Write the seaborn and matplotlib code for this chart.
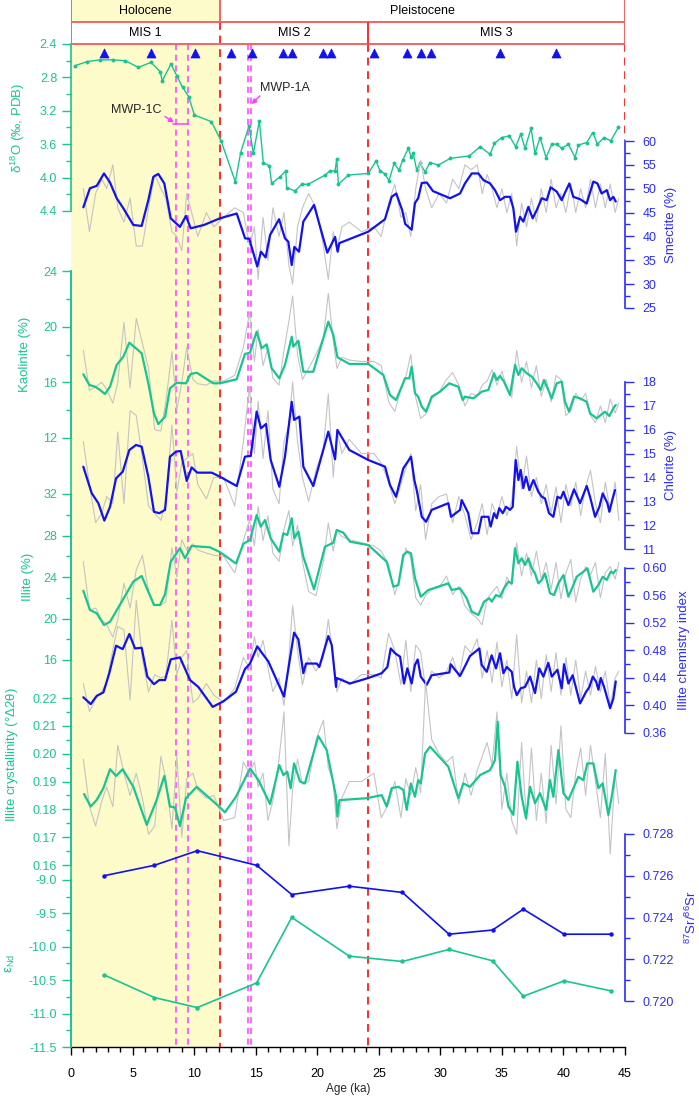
import matplotlib
matplotlib.use("Agg")
import matplotlib.pyplot as plt
from matplotlib.ticker import MultipleLocator, FormatStrFormatter
import seaborn as sns

# ---- data (ages in ka) ----
d18o_age = [0.33, 1.33, 2.36, 3.39, 4.41, 5.47, 6.50, 7.23, 7.42, 8.12, 8.59, 9.07, 9.56, 10.02, 11.4, 12.19, 13.35, 13.78, 14.46, 14.81,
            15.3, 15.62, 16.11, 16.3, 16.98, 17.44, 17.52, 18.2, 18.74, 19.28, 20.63, 21.04, 21.45, 21.58, 21.72, 22.53, 24.15, 24.78, 25.1, 25.53,
            25.83, 26.24, 26.65, 26.94, 27.4, 27.62, 27.8, 28.08, 28.35, 28.76, 29.16, 29.84, 30.8, 32.36, 33.23, 34.04, 34.39, 34.99, 35.6, 36.12,
            36.53, 36.88, 37.37, 37.69, 38.1, 38.59, 39.05, 39.45, 39.86, 40.4, 40.94, 41.21, 41.89, 42.38, 42.76, 43.3, 43.84, 44.46]
d18o = [2.66, 2.61, 2.59, 2.59, 2.60, 2.68, 2.62, 2.73, 2.84, 2.64, 2.78, 2.92, 3.03, 3.25, 3.33, 3.56, 4.05, 3.70, 3.38, 3.71,
        3.32, 3.82, 3.86, 4.07, 3.99, 3.92, 4.12, 4.16, 4.08, 4.08, 3.97, 3.92, 3.92, 3.78, 4.08, 3.97, 3.95, 3.80, 3.92, 3.96,
        4.04, 3.83, 3.91, 3.79, 3.65, 3.75, 3.71, 3.91, 3.83, 3.93, 3.82, 3.85, 3.77, 3.74, 3.63, 3.72, 3.59, 3.52, 3.50, 3.63,
        3.48, 3.65, 3.41, 3.71, 3.52, 3.76, 3.60, 3.60, 3.65, 3.60, 3.76, 3.61, 3.58, 3.46, 3.60, 3.52, 3.56, 3.40]

# AMS 14C dates
dates = [2.68, 6.5, 10.07, 13.0, 14.7, 17.2, 17.95, 20.47, 21.1, 24.6, 27.3, 28.4, 29.24, 34.85, 39.4]

# raw clay samples share one age list
raw_age = ([1.0, 1.5, 2.0, 2.5, 2.9, 3.4, 3.8, 4.3, 4.8, 5.3, 5.8, 6.3, 6.8, 7.3, 7.7, 8.2, 8.6, 9.0, 9.4, 9.9, 10.3, 11.0, 11.6]
           + [12.4, 13.3, 14.0, 14.5, 14.9, 15.2, 15.6, 16.0, 16.4, 16.9, 17.3, 17.7, 18.0, 18.4, 18.8, 19.3, 19.9, 20.5, 20.9, 21.3, 21.6, 22.0, 22.6, 23.6]
           + [24.6, 25.2, 25.8, 26.3, 26.8, 27.2, 27.6, 28.0, 28.4, 28.8, 29.3, 29.9, 30.5, 31.0, 31.5, 32.0, 32.5, 33.0, 33.4, 33.8, 34.2, 34.6, 35.0, 35.4]
           + [35.8, 36.2, 36.6, 37.0, 37.4, 37.8, 38.2, 38.6, 39.0, 39.4, 39.8, 40.2, 40.6, 41.0, 41.4, 41.8, 42.2, 42.6, 43.0, 43.4, 43.8, 44.2, 44.5])

smec_raw = ([50, 41, 49, 52, 50, 55, 46, 43, 48, 38, 38, 46, 53, 50, 48, 41, 40, 37, 49, 44, 40, 45, 42]
            + [44, 46, 45, 38, 42, 31, 44, 35, 46, 40, 45, 34, 30, 42, 46, 49, 46, 38, 31, 41, 37, 42, 43, 41]
            + [42, 40, 47, 51, 44, 45, 40, 50, 56, 50, 46, 49, 47, 52, 50, 55, 54, 55, 49, 53, 50, 46, 50, 45]
            + [49, 38, 47, 42, 48, 43, 50, 45, 52, 46, 49, 45, 51, 45, 50, 46, 52, 46, 51, 46, 51, 45, 48])
kaol_raw = ([18.3, 15.4, 15.7, 16.0, 15.5, 14.5, 16.0, 20.3, 15.6, 20.6, 18.8, 17.0, 12.6, 12.5, 14.6, 18.2, 14.0, 16.0, 18.5, 16.2, 15.9, 15.8, 16.1]
            + [16.1, 16.5, 18.5, 21.0, 17.5, 19.8, 17.2, 18.5, 16.3, 15.8, 18.3, 20.4, 22.2, 18.0, 16.2, 17.0, 18.0, 19.2, 22.4, 19.0, 17.0, 17.8, 17.6, 17.5]
            + [17.5, 17.2, 14.6, 13.9, 15.5, 16.4, 18.0, 14.9, 13.4, 13.7, 14.8, 15.3, 16.2, 16.7, 15.8, 14.3, 15.2, 15.0, 15.8, 16.1, 16.9, 15.8, 16.8, 15.6]
            + [14.9, 18.3, 16.0, 17.5, 15.6, 17.2, 15.0, 16.2, 14.6, 16.5, 16.2, 13.6, 14.0, 15.2, 14.7, 15.2, 13.6, 13.1, 14.3, 13.1, 14.8, 13.8, 14.5])
chlo_raw = ([15.5, 13.7, 12.1, 12.5, 13.2, 12.9, 15.9, 12.9, 16.8, 16.6, 14.8, 12.8, 12.5, 12.2, 13.0, 16.2, 13.4, 14.6, 14.8, 15.0, 13.7, 13.1, 14.0]
            + [14.0, 12.8, 15.5, 17.8, 15.0, 17.2, 14.8, 16.8, 13.5, 12.9, 15.5, 16.2, 18.0, 15.5, 14.0, 13.0, 14.3, 15.2, 17.5, 14.0, 16.0, 15.0, 15.6, 15.0]
            + [15.0, 14.6, 13.8, 12.9, 13.7, 14.4, 15.0, 12.6, 13.7, 11.4, 12.9, 13.2, 13.3, 12.1, 13.2, 12.4, 11.4, 12.1, 12.9, 11.6, 12.9, 12.4, 13.2, 12.4]
            + [13.0, 15.3, 13.5, 14.9, 13.2, 14.0, 12.9, 13.7, 12.5, 13.6, 12.1, 13.7, 12.8, 13.8, 12.4, 13.6, 14.3, 12.9, 12.1, 13.8, 12.6, 13.8, 12.2])
illi_raw = ([25.5, 20.8, 21.0, 19.9, 19.4, 18.2, 19.9, 23.4, 21.0, 24.7, 26.1, 22.6, 21.3, 21.3, 21.6, 26.8, 24.0, 27.6, 26.6, 27.2, 26.6, 26.3, 26.1]
            + [26.0, 24.4, 27.5, 29.5, 27.0, 30.8, 27.5, 29.9, 26.3, 25.5, 28.6, 30.4, 27.0, 29.0, 25.5, 22.6, 22.2, 25.5, 29.2, 26.5, 28.5, 27.9, 27.6, 27.3]
            + [27.0, 26.5, 25.2, 22.3, 24.4, 26.8, 25.8, 22.0, 21.3, 22.2, 22.8, 23.0, 24.1, 22.3, 23.1, 21.2, 20.5, 20.0, 19.4, 21.9, 22.5, 23.1, 21.9, 24.0]
            + [23.2, 27.3, 24.1, 26.3, 24.1, 26.5, 23.8, 25.4, 22.8, 25.4, 21.9, 24.4, 25.7, 21.6, 23.8, 25.0, 24.2, 25.4, 22.0, 24.4, 25.0, 23.8, 25.4])
ici_raw = ([0.432, 0.391, 0.410, 0.420, 0.434, 0.481, 0.515, 0.510, 0.408, 0.553, 0.468, 0.420, 0.445, 0.440, 0.443, 0.524, 0.445, 0.470, 0.480, 0.404, 0.410, 0.432, 0.415]
           + [0.405, 0.425, 0.470, 0.455, 0.500, 0.470, 0.495, 0.455, 0.420, 0.440, 0.400, 0.470, 0.545, 0.480, 0.430, 0.470, 0.450, 0.470, 0.525, 0.470, 0.420, 0.440, 0.430, 0.445]
           + [0.445, 0.440, 0.505, 0.480, 0.430, 0.495, 0.420, 0.488, 0.478, 0.425, 0.450, 0.440, 0.450, 0.470, 0.440, 0.487, 0.476, 0.497, 0.440, 0.480, 0.433, 0.492, 0.427, 0.466]
           + [0.410, 0.503, 0.404, 0.450, 0.404, 0.466, 0.410, 0.474, 0.420, 0.477, 0.415, 0.470, 0.415, 0.466, 0.410, 0.450, 0.415, 0.457, 0.420, 0.450, 0.400, 0.440, 0.450])
cryst_raw = ([0.198, 0.181, 0.174, 0.183, 0.188, 0.181, 0.203, 0.193, 0.185, 0.193, 0.184, 0.171, 0.174, 0.199, 0.191, 0.173, 0.199, 0.170, 0.191, 0.193, 0.187, 0.184, 0.185]
             + [0.176, 0.177, 0.197, 0.193, 0.197, 0.188, 0.193, 0.176, 0.183, 0.198, 0.215, 0.167, 0.187, 0.198, 0.189, 0.190, 0.205, 0.212, 0.195, 0.190, 0.173, 0.184, 0.190, 0.190]
             + [0.193, 0.177, 0.182, 0.190, 0.177, 0.191, 0.185, 0.195, 0.186, 0.226, 0.205, 0.200, 0.197, 0.199, 0.182, 0.193, 0.185, 0.194, 0.199, 0.204, 0.196, 0.215, 0.180, 0.193]
             + [0.176, 0.171, 0.204, 0.176, 0.202, 0.176, 0.193, 0.175, 0.203, 0.182, 0.210, 0.180, 0.177, 0.193, 0.202, 0.185, 0.203, 0.190, 0.177, 0.200, 0.164, 0.193, 0.182])

# smoothed curves
smec_age = [1.0, 1.54, 2.09, 2.68, 3.17, 3.71, 4.25, 5.06, 5.74, 6.28, 6.69, 7.09, 7.58, 8.1, 8.85, 9.34, 9.72, 10.8, 12.1, 13.46,
            14.14, 14.48, 15.13, 15.43, 15.81, 16.17, 16.9, 17.38, 17.65, 17.93, 18.14, 18.52, 18.87, 19.74, 20.82, 21.45, 21.66, 21.8,
            24.15, 25.5, 26.05, 26.42, 26.9, 27.15, 27.67, 27.94, 28.2, 28.49, 28.9, 29.4, 30.79, 31.6, 32.0, 32.55, 33.09, 33.5, 34.04, 34.44,
            34.85, 35.26, 35.66, 35.93, 36.15, 36.48, 36.74, 37.15, 37.5, 37.83, 38.24, 38.64, 38.96, 39.45, 39.86, 40.13, 40.48, 40.8, 41.35, 41.89,
            42.43, 42.76, 43.1, 43.52, 43.79, 44.05, 44.25]
smec = [46.1, 50.1, 50.6, 53.2, 51.3, 48.0, 45.9, 42.4, 42.2, 47.6, 52.5, 53.1, 51.1, 43.8, 42.0, 44.3, 41.7, 42.4, 43.8, 44.8,
        39.6, 39.5, 33.7, 36.8, 35.6, 40.3, 43.6, 39.6, 38.9, 34.0, 37.8, 36.8, 43.1, 46.6, 36.6, 39.9, 36.8, 38.6,
        41.0, 43.6, 48.3, 49.0, 45.5, 42.6, 41.4, 47.0, 48.0, 51.2, 51.3, 49.5, 48.0, 49.0, 51.1, 53.2, 53.2, 51.8, 51.1, 49.7,
        47.6, 48.3, 48.3, 45.9, 41.0, 44.1, 43.1, 46.2, 43.8, 45.5, 48.0, 47.6, 50.3, 49.4, 47.6, 49.2, 51.1, 48.3, 47.8, 46.9,
        51.5, 51.1, 49.0, 49.7, 47.6, 48.3, 47.3]

kaol_age = [1.0, 1.49, 1.95, 2.36, 2.76, 3.17, 3.71, 4.25, 4.74, 5.74, 6.28, 6.74, 7.09, 7.64, 8.04, 8.59, 9.34, 9.72, 10.21, 11.56,
            12.1, 13.46, 14.13, 14.54, 15.08, 15.49, 15.89, 16.3, 16.92, 17.38, 17.93, 18.06, 18.47, 18.87, 19.68, 20.9, 21.31, 21.64, 22.61,
            24.15, 25.37, 25.91, 26.4, 26.86, 27.13, 27.48, 27.67, 27.94, 28.2, 28.49, 28.84, 29.3, 29.98, 30.73, 31.06, 31.46, 31.82, 32.0, 32.7,
            33.36, 33.9, 34.36, 34.58, 34.85, 35.17, 35.66, 36.07, 36.34, 36.61, 37.02, 37.43, 37.83, 38.15, 38.42, 38.77, 39.05, 39.45, 39.86, 40.13,
            40.46, 40.86, 41.35, 41.89, 42.16, 42.7, 43.03, 43.38, 43.73, 44.05, 44.25]
kaol = [16.58, 15.81, 15.69, 15.45, 15.16, 15.69, 17.25, 17.84, 18.85, 18.09, 15.93, 13.77, 13.0, 13.53, 15.57, 15.97, 15.93, 16.6, 16.69, 15.93,
        15.93, 16.22, 18.04, 18.13, 19.64, 18.45, 18.73, 17.01, 16.29, 17.25, 19.28, 18.56, 18.99, 16.76, 16.76, 20.36, 19.4, 17.8, 17.32,
        17.32, 16.53, 15.09, 14.73, 15.69, 16.29, 16.29, 17.12, 15.21, 14.97, 14.25, 13.89, 14.97, 15.33, 15.93, 15.81, 15.69, 14.73, 14.97, 14.85,
        15.33, 15.45, 16.65, 16.17, 16.46, 16.05, 15.09, 17.25, 16.53, 17.01, 16.65, 16.41, 15.93, 15.45, 16.17, 15.45, 14.85, 15.93, 16.05, 14.6,
        13.89, 14.97, 14.85, 14.6, 13.77, 13.41, 13.65, 13.89, 13.58, 14.13, 14.37]

chlo_age = [1.0, 1.68, 2.22, 2.71, 3.17, 3.66, 4.2, 4.74, 5.28, 5.74, 6.28, 6.74, 7.17, 7.64, 8.04, 8.53, 8.91, 9.4, 9.8, 10.26,
            11.43, 12.1, 13.46, 14.13, 14.6, 15.08, 15.43, 15.84, 16.22, 16.92, 17.38, 17.93, 18.12, 18.55, 18.87, 19.68, 20.9, 21.45, 21.64, 22.61,
            24.15, 25.51, 25.91, 26.4, 26.99, 27.62, 27.89, 28.08, 28.49, 28.84, 29.3, 30.65, 30.87, 31.6, 31.74, 32.27, 32.55, 33.09, 33.36, 33.9,
            34.09, 34.36, 34.58, 34.79, 35.07, 35.34, 35.66, 35.88, 36.12, 36.34, 36.53, 36.74, 36.96, 37.23, 37.56, 37.96, 38.24, 38.5, 38.83, 39.18,
            39.51, 39.78, 40.0, 40.4, 40.86, 41.35, 41.89, 42.16, 42.57, 42.92, 43.19, 43.57, 43.73, 44.0, 44.19]
chlo = [14.45, 13.34, 12.92, 12.19, 12.77, 13.96, 14.24, 15.15, 15.36, 15.29, 14.03, 12.56, 12.5, 12.64, 14.87, 15.08, 15.11, 13.85, 14.42, 14.2,
        14.2, 14.03, 13.64, 14.87, 14.9, 16.76, 16.06, 16.24, 14.73, 13.61, 14.87, 17.17, 16.41, 16.55, 14.45, 13.64, 15.92, 14.76, 15.99, 15.15,
        14.73, 14.45, 13.68, 13.19, 14.38, 14.87, 13.89, 13.47, 12.35, 12.14, 12.64, 12.92, 12.35, 12.64, 13.05, 12.5, 11.66, 11.66, 12.35, 12.35,
        11.94, 12.5, 12.29, 12.71, 12.5, 12.77, 12.64, 12.77, 14.73, 13.89, 14.31, 13.55, 14.03, 13.47, 13.89, 13.4, 13.19, 13.12, 12.5, 12.35,
        13.19, 13.12, 13.4, 12.84, 13.5, 12.92, 13.64, 13.19, 12.35, 12.77, 13.33, 12.92, 12.56, 13.12, 13.47]

illi_age = [1.0, 1.54, 2.09, 2.68, 3.17, 4.12, 5.06, 5.74, 6.74, 7.23, 7.64, 8.1, 8.85, 9.26, 9.8, 11.29, 12.1, 13.4, 14.0, 14.54,
            15.08, 15.41, 15.76, 16.22, 16.92, 17.25, 17.57, 17.93, 18.14, 18.47, 18.87, 19.74, 20.63, 21.31, 21.58, 22.12, 22.66, 24.15, 25.64, 26.19,
            26.59, 26.99, 27.32, 27.62, 27.94, 28.41, 29.03, 30.65, 30.92, 31.6, 32.14, 32.55, 33.09, 33.55, 33.98, 34.17, 34.52, 34.85, 35.17, 35.53,
            35.8, 36.07, 36.34, 36.61, 36.88, 37.15, 37.43, 37.69, 37.96, 38.24, 38.5, 38.91, 39.24, 39.59, 40.0, 40.4, 40.75, 41.08, 41.62, 41.94,
            42.43, 42.84, 43.19, 43.52, 43.84, 44.05, 44.25]
illi = [22.68, 20.82, 20.5, 19.37, 19.69, 21.62, 23.55, 24.1, 21.3, 21.3, 22.36, 25.47, 26.77, 25.8, 26.99, 26.86, 26.4, 25.3, 27.2, 27.57,
        29.98, 28.85, 29.49, 27.73, 26.44, 28.21, 28.05, 29.66, 27.73, 28.37, 25.96, 22.81, 26.92, 27.31, 28.53, 28.27, 27.4, 27.08, 25.47, 23.06,
        23.23, 26.12, 26.44, 26.28, 23.87, 22.1, 22.75, 23.39, 22.75, 22.91, 21.95, 20.66, 20.34, 21.62, 21.95, 21.62, 22.26, 22.1, 22.91, 23.55,
        23.39, 26.77, 25.32, 25.8, 25.16, 25.8, 24.84, 24.35, 23.39, 23.71, 24.35, 22.43, 22.26, 23.39, 24.19, 22.1, 23.06, 24.03, 24.51, 24.84,
        22.58, 23.23, 24.03, 23.71, 24.51, 24.35, 24.67]

ici_age = [1.0, 1.6, 2.09, 2.63, 3.11, 3.66, 4.2, 4.74, 5.2, 5.74, 6.2, 6.74, 7.17, 7.64, 8.1, 8.85, 9.67, 10.34, 11.51, 12.37,
           13.4, 14.13, 14.54, 15.13, 15.57, 16.03, 17.3, 18.12, 18.47, 18.87, 19.09, 19.96, 20.17, 20.9, 21.18, 21.53, 21.58, 22.66, 24.15, 25.24,
           25.7, 25.97, 26.32, 26.73, 27.05, 27.32, 27.67, 27.94, 28.16, 28.41, 28.89, 29.3, 30.73, 30.84, 31.19, 31.6, 32.0, 32.41, 33.17, 33.36,
           33.77, 34.17, 34.52, 34.85, 35.12, 35.4, 35.8, 35.99, 36.21, 36.53, 36.88, 37.29, 37.69, 38.04, 38.37, 38.77, 39.05, 39.51, 39.86, 40.05,
           40.4, 40.75, 41.35, 41.84, 42.11, 42.38, 42.65, 42.84, 43.03, 43.3, 43.79, 44.05, 44.25]
ici = [0.412, 0.402, 0.414, 0.419, 0.447, 0.487, 0.482, 0.504, 0.483, 0.484, 0.442, 0.431, 0.437, 0.437, 0.467, 0.470, 0.437, 0.427, 0.398, 0.406,
       0.420, 0.453, 0.461, 0.486, 0.475, 0.464, 0.413, 0.506, 0.496, 0.447, 0.461, 0.461, 0.456, 0.501, 0.488, 0.427, 0.440, 0.432, 0.440, 0.447,
       0.456, 0.483, 0.476, 0.471, 0.432, 0.454, 0.432, 0.459, 0.467, 0.442, 0.430, 0.444, 0.448, 0.460, 0.452, 0.443, 0.457, 0.472, 0.483, 0.459,
       0.449, 0.473, 0.454, 0.476, 0.447, 0.456, 0.449, 0.427, 0.415, 0.425, 0.427, 0.442, 0.418, 0.454, 0.442, 0.462, 0.442, 0.452, 0.425, 0.460,
       0.432, 0.444, 0.403, 0.420, 0.427, 0.442, 0.435, 0.423, 0.440, 0.427, 0.396, 0.410, 0.435]

cryst_age = [1.06, 1.6, 2.09, 2.63, 3.17, 3.66, 4.2, 5.06, 6.15, 6.96, 7.58, 8.04, 8.45, 8.85, 9.34, 10.21, 12.1, 12.5, 13.4, 14.54,
             15.22, 16.17, 16.92, 17.25, 17.57, 17.84, 18.12, 18.6, 19.0, 20.09, 20.77, 21.53, 21.64, 21.8, 24.02, 25.24, 25.64, 26.05, 26.59, 26.99,
             27.27, 27.6, 27.94, 28.2, 28.41, 28.76, 29.16, 30.65, 31.46, 31.87, 32.41, 33.23, 34.04, 34.44, 34.66, 34.9, 35.26, 35.53, 35.93, 36.26,
             36.61, 36.96, 37.29, 37.69, 38.1, 38.59, 38.91, 39.18, 39.59, 40.0, 40.4, 40.86, 41.21, 41.62, 41.94, 42.43, 42.84, 43.19, 43.65, 43.92,
             44.25]
cryst = [0.1855, 0.181, 0.1834, 0.1876, 0.1944, 0.192, 0.1944, 0.1881, 0.1744, 0.1834, 0.192, 0.181, 0.1807, 0.174, 0.184, 0.1881, 0.1807, 0.1789, 0.1845, 0.1947,
         0.1905, 0.1819, 0.1959, 0.1923, 0.1935, 0.1876, 0.1965, 0.19, 0.1893, 0.2063, 0.2013, 0.1845, 0.1774, 0.1833, 0.184, 0.1851, 0.181, 0.1876, 0.1881, 0.187,
         0.1798, 0.1893, 0.1845, 0.1905, 0.1893, 0.2001, 0.2025, 0.1953, 0.184, 0.1893, 0.1881, 0.1923, 0.1941, 0.1977, 0.2115, 0.1923, 0.1881, 0.181, 0.178, 0.1971,
         0.1845, 0.1768, 0.1881, 0.1822, 0.1858, 0.1798, 0.1905, 0.1845, 0.2013, 0.1858, 0.1834, 0.1881, 0.1917, 0.1905, 0.1965, 0.1965, 0.1876, 0.1893, 0.178, 0.1845,
         0.1941]

iso_age = [2.68, 6.77, 10.26, 15.08, 17.93, 22.6, 26.92, 30.7, 34.25, 36.74, 40.05, 43.87]
sr = [0.7260, 0.7265, 0.7272, 0.7265, 0.7251, 0.7255, 0.7252, 0.7232, 0.7234, 0.7244, 0.7232, 0.7232]
nd = [-10.42, -10.76, -10.91, -10.54, -9.56, -10.14, -10.22, -10.04, -10.21, -10.74, -10.51, -10.66]

# ---- style ----
sns.set_theme(style="ticks")
plt.rcParams["font.family"] = ["Liberation Sans", "DejaVu Sans"]
plt.rcParams["mathtext.default"] = "regular"
plt.rcParams["axes.unicode_minus"] = False

TEAL = "#19c493"
BLUE = "#1212ee"
RAXIS = "#2b2bff"
GREY = "#c4c4c4"
YELLOW = "#fdfbc9"
RED = "#ff2b2b"
HEAD = "#f26464"
MAG = "#ff3cff"

W, H = 699, 1097
X0, X1, YB = 71, 625, 1047
fig = plt.figure(figsize=(W / 100, H / 100), dpi=100)

# base axes: x in ka, y in pixel rows (0 at top)
base = fig.add_axes([X0 / W, 1 - YB / H, (X1 - X0) / W, YB / H])
base.set_xlim(0, 45)
base.set_ylim(YB, 0)
base.fill_between([0, 12.1], 44, YB, color=YELLOW, lw=0, zorder=0)
base.fill_between([0, 12.1], 0, 22, color=YELLOW, lw=0, zorder=0)
for s in ["top", "right"]:
    base.spines[s].set_visible(False)
base.spines["left"].set_bounds(271, YB)
base.spines["left"].set_color(TEAL)
base.spines["left"].set_linewidth(1.2)
base.spines["bottom"].set_color("black")
base.spines["bottom"].set_linewidth(1.0)
base.set_yticks([])
base.set_xticks(range(0, 46, 5))
base.xaxis.set_minor_locator(MultipleLocator(1))
base.tick_params(axis="x", which="both", direction="out", colors="black", labelsize=9, pad=9, width=1.0)
base.tick_params(axis="x", which="major", length=6)
base.tick_params(axis="x", which="minor", length=3.5)
base.set_xlabel("Age (ka)", fontsize=8.5)
base.xaxis.set_label_coords(0.5, -0.034)

# header boxes
base.hlines([22, 44], 0, 45, color=HEAD, lw=1.4, zorder=5)
base.vlines([0, 12.1, 45], 0, 22, color=HEAD, lw=1.4, zorder=5)
base.vlines([0, 45], 22, 44, color=HEAD, lw=1.4, zorder=5)
base.vlines([24.1], 22, 44, color=RED, lw=1.4, zorder=5)
for xc, yc, t in [(6.05, 11, "Holocene"), (28.55, 11, "Pleistocene"),
                  (6.05, 33, "MIS 1"), (18.1, 33, "MIS 2"), (34.55, 33, "MIS 3")]:
    base.text(xc, yc, t, ha="center", va="center", fontsize=9, color="black")

# boundaries and meltwater pulses
base.vlines([12.1], 22, YB, color=RED, lw=1.4, linestyles=[(0, (4, 3))], zorder=4)
base.vlines([24.1], 44, YB, color=RED, lw=1.4, linestyles=[(0, (4, 3))], zorder=4)
base.vlines([45], 44, 140, color=RED, lw=1.4, linestyles=[(0, (4, 3))], zorder=4)
base.vlines([8.5, 9.5, 14.4, 14.65], 44, YB, color=MAG, lw=1.1, linestyles=[(0, (4, 3))], zorder=4)
base.plot([8.3, 9.5], [124, 124], color=MAG, lw=1.1, zorder=4)
base.annotate("", xy=(8.55, 124), xytext=(7.45, 115),
              arrowprops=dict(arrowstyle="-|>", color=MAG, lw=1.0, mutation_scale=7))
base.annotate("", xy=(14.5, 106), xytext=(15.5, 94),
              arrowprops=dict(arrowstyle="-|>", color=MAG, lw=1.0, mutation_scale=7))
base.text(5.3, 110, "MWP-1C", ha="center", va="center", fontsize=9)
base.text(17.4, 88, "MWP-1A", ha="center", va="center", fontsize=9)

sns.scatterplot(x=dates, y=[53] * len(dates), ax=base, marker="^", s=42,
                color=BLUE, edgecolor=BLUE, linewidth=0.5, zorder=6, legend=False)
base.set_ylabel("")


def band(top, bot, ylim, side, color, ticks, minor, fmt, label, lx, ly=0.5):
    ax = fig.add_axes([X0 / W, 1 - bot / H, (X1 - X0) / W, (bot - top) / H])
    ax.patch.set_alpha(0)
    ax.set_xlim(0, 45)
    ax.set_ylim(*ylim)
    ax.set_xticks([])
    for s in ax.spines.values():
        s.set_visible(False)
    ax.spines[side].set_visible(True)
    ax.spines[side].set_color(color)
    ax.spines[side].set_linewidth(1.2)
    ax.yaxis.set_ticks_position(side)
    ax.set_yticks(ticks)
    ax.yaxis.set_minor_locator(MultipleLocator(minor))
    ax.yaxis.set_major_formatter(FormatStrFormatter(fmt))
    ax.tick_params(axis="y", which="both", direction="out", colors=color,
                   labelsize=9, width=1.0, pad=3.5 if side == "left" else 6)
    ax.tick_params(axis="y", which="major", length=6.5)
    ax.tick_params(axis="y", which="minor", length=3.5)
    ax.text(lx, ly, label, transform=ax.transAxes, rotation=90, ha="center",
            va="center", color=color, fontsize=9.5)
    return ax


def trace(ax, x, y, color, lw, **kw):
    sns.lineplot(x=x, y=y, ax=ax, color=color, linewidth=lw, estimator=None,
                 sort=False, legend=False, **kw)
    for ln in ax.lines:
        ln.set_clip_on(False)
    ax.set_xlabel("")
    ax.set_ylabel("")


def fx(px):
    return (px - X0) / (X1 - X0)


ax = band(44, 211, (4.4, 2.4), "left", TEAL, [2.4, 2.8, 3.2, 3.6, 4.0, 4.4], 0.2, "%.1f",
          "δ$^{18}$O (‰, PDB)", fx(18))
trace(ax, d18o_age, d18o, TEAL, 1.0, marker="o", markersize=2.8, markeredgewidth=0)

ax = band(141, 308, (25, 60), "right", RAXIS, [25, 30, 35, 40, 45, 50, 55, 60], 2.5, "%d",
          "Smectite (%)", fx(671))
trace(ax, raw_age, smec_raw, GREY, 0.8)
trace(ax, smec_age, smec, BLUE, 1.6)

ax = band(271, 438, (12, 24), "left", TEAL, [12, 16, 20, 24], 2, "%d",
          "Kaolinite (%)", fx(25))
trace(ax, raw_age, kaol_raw, GREY, 0.8)
trace(ax, kaol_age, kaol, TEAL, 1.6)

ax = band(382, 549, (11, 18), "right", RAXIS, [11, 12, 13, 14, 15, 16, 17, 18], 0.5, "%d",
          "Chlorite (%)", fx(671))
trace(ax, raw_age, chlo_raw, GREY, 0.8)
trace(ax, chlo_age, chlo, BLUE, 1.6)

ax = band(494, 660, (16, 32), "left", TEAL, [16, 20, 24, 28, 32], 2, "%d",
          "Illite (%)", fx(28))
trace(ax, raw_age, illi_raw, GREY, 0.8)
trace(ax, illi_age, illi, TEAL, 1.6)

ax = band(568, 733, (0.36, 0.60), "right", RAXIS, [0.36, 0.40, 0.44, 0.48, 0.52, 0.56, 0.60], 0.02, "%.2f",
          "Illite chemistry index", fx(684))
trace(ax, raw_age, ici_raw, GREY, 0.8)
trace(ax, ici_age, ici, BLUE, 1.6)

ax = band(698, 865, (0.16, 0.22), "left", TEAL, [0.16, 0.17, 0.18, 0.19, 0.20, 0.21, 0.22], 0.005, "%.2f",
          "Illite crystallinity (°Δ2$\\theta$)", fx(12), 0.66)
trace(ax, raw_age, cryst_raw, GREY, 0.8)
trace(ax, cryst_age, cryst, TEAL, 1.6)

ax = band(834, 1001, (0.720, 0.728), "right", RAXIS, [0.720, 0.722, 0.724, 0.726, 0.728], 0.001, "%.3f",
          "$^{87}$Sr/$^{86}$Sr", fx(691))
trace(ax, iso_age, sr, BLUE, 1.2, marker="o", markersize=3.2, markeredgewidth=0)

ax = band(880, 1047, (-11.5, -9.0), "left", TEAL, [-11.5, -11.0, -10.5, -10.0, -9.5, -9.0], 0.25, "%.1f",
          "$\\varepsilon_{Nd}$", fx(10))
trace(ax, iso_age, nd, TEAL, 1.2, marker="o", markersize=3.2, markeredgewidth=0)

fig.savefig("out.png", dpi=100)
